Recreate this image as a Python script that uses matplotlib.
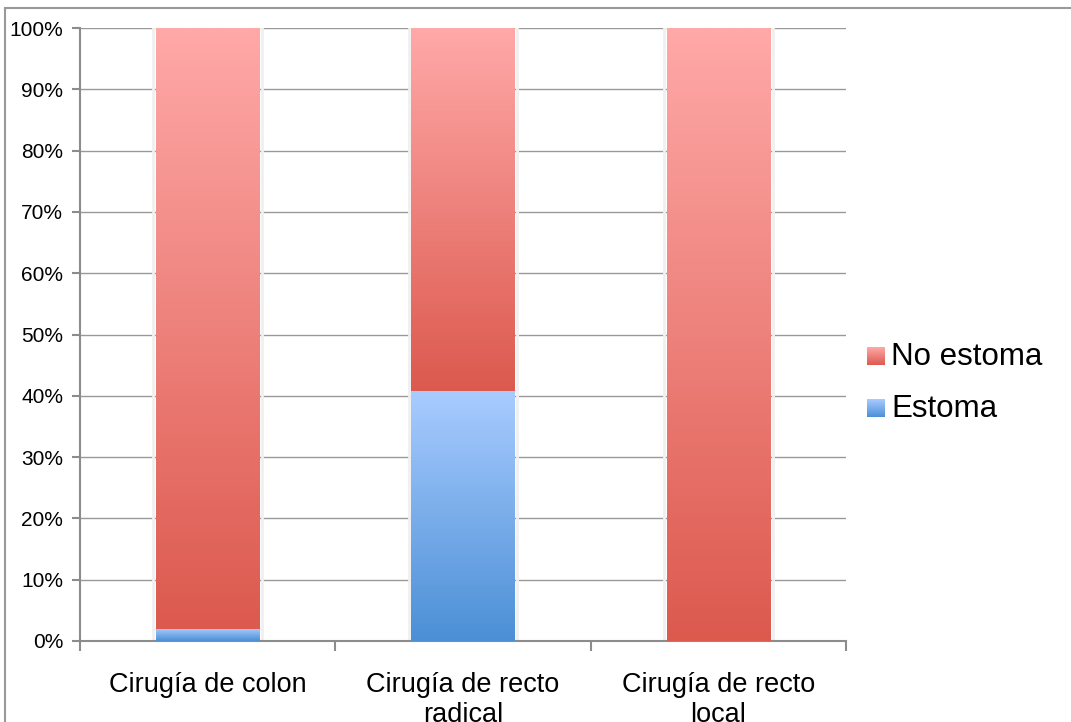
import matplotlib
matplotlib.use("Agg")
import matplotlib.pyplot as plt
import numpy as np
from matplotlib.colors import LinearSegmentedColormap
from matplotlib.patches import Rectangle

categories = ["Cirugía de colon", "Cirugía de recto\nradical", "Cirugía de recto\nlocal"]
estoma = [2.0, 40.8, 0.0]
no_estoma = [98.0, 59.2, 100.0]

plt.rcParams["font.family"] = ["Liberation Sans", "DejaVu Sans"]

red_cmap = LinearSegmentedColormap.from_list("red", ["#dc594e", "#ffa9a8"])
blue_cmap = LinearSegmentedColormap.from_list("blue", ["#4b8fd6", "#a9ccff"])

fig = plt.figure(figsize=(10.71, 7.22), dpi=100)
ax = fig.add_axes([80 / 1071, 81 / 722, 766 / 1071, 613 / 722])

x = np.arange(len(categories))
grad = np.linspace(0, 1, 256).reshape(-1, 1)


def gradient_bars(bars, cmap):
    for b in bars:
        if b.get_height() <= 0:
            continue
        x0, y0 = b.get_x(), b.get_y()
        w, h = b.get_width(), b.get_height()
        im = ax.imshow(grad, cmap=cmap, origin="lower", aspect="auto",
                       extent=[x0, x0 + w, y0, y0 + h], zorder=3)
        im.set_clip_path(b)
        # soft shadow
        ax.add_patch(Rectangle((x0 - 0.01, y0), w + 0.02, h, facecolor="none",
                               edgecolor="#f0f0f0", lw=2, zorder=2.5))


b1 = ax.bar(x, estoma, width=0.405, color="none", zorder=3)
b2 = ax.bar(x, no_estoma, width=0.405, bottom=estoma, color="none", zorder=3)
gradient_bars(b1, blue_cmap)
gradient_bars(b2, red_cmap)

ax.set_xlim(-0.5, 2.5)
ax.set_ylim(0, 100)
ax.set_yticks(np.arange(0, 101, 10))
ax.set_yticklabels([f"{v}%" for v in range(0, 101, 10)], fontsize=15)
ax.yaxis.grid(True, color="#999999", lw=1)
ax.set_axisbelow(True)

ax.set_xticks(x)
ax.set_xticklabels(categories, fontsize=19.5, linespacing=1.2)
ax.tick_params(axis="x", length=0, pad=22)
ax.set_xticks([-0.5, 0.5, 1.5, 2.5], minor=True)
ax.tick_params(axis="x", which="minor", length=7, color="#8c8c8c", width=1.5)
ax.tick_params(axis="y", length=6, color="#8c8c8c", width=1.5, pad=6)

for s in ["top", "right"]:
    ax.spines[s].set_visible(False)
for s in ["left", "bottom"]:
    ax.spines[s].set_color("#8c8c8c")
    ax.spines[s].set_linewidth(1.5)

# legend with gradient squares
fig.text(891 / 1071, 1 - 357 / 722, "No estoma", fontsize=22.5, va="center")
fig.text(891 / 1071, 1 - 409 / 722, "Estoma", fontsize=22.5, va="center")
for yc, cmap in [(356, red_cmap), (408, blue_cmap)]:
    lax = fig.add_axes([867 / 1071, 1 - (yc + 9) / 722, 18 / 1071, 18 / 722])
    lax.imshow(grad, cmap=cmap, origin="lower", aspect="auto")
    lax.axis("off")

# outer frame
fig.patches.append(Rectangle((5 / 1071, -0.05), 1.1, 1.05 - 8 / 722,
                             transform=fig.transFigure, facecolor="none",
                             edgecolor="#999999", lw=1.5))

fig.savefig("out.png", dpi=100)
